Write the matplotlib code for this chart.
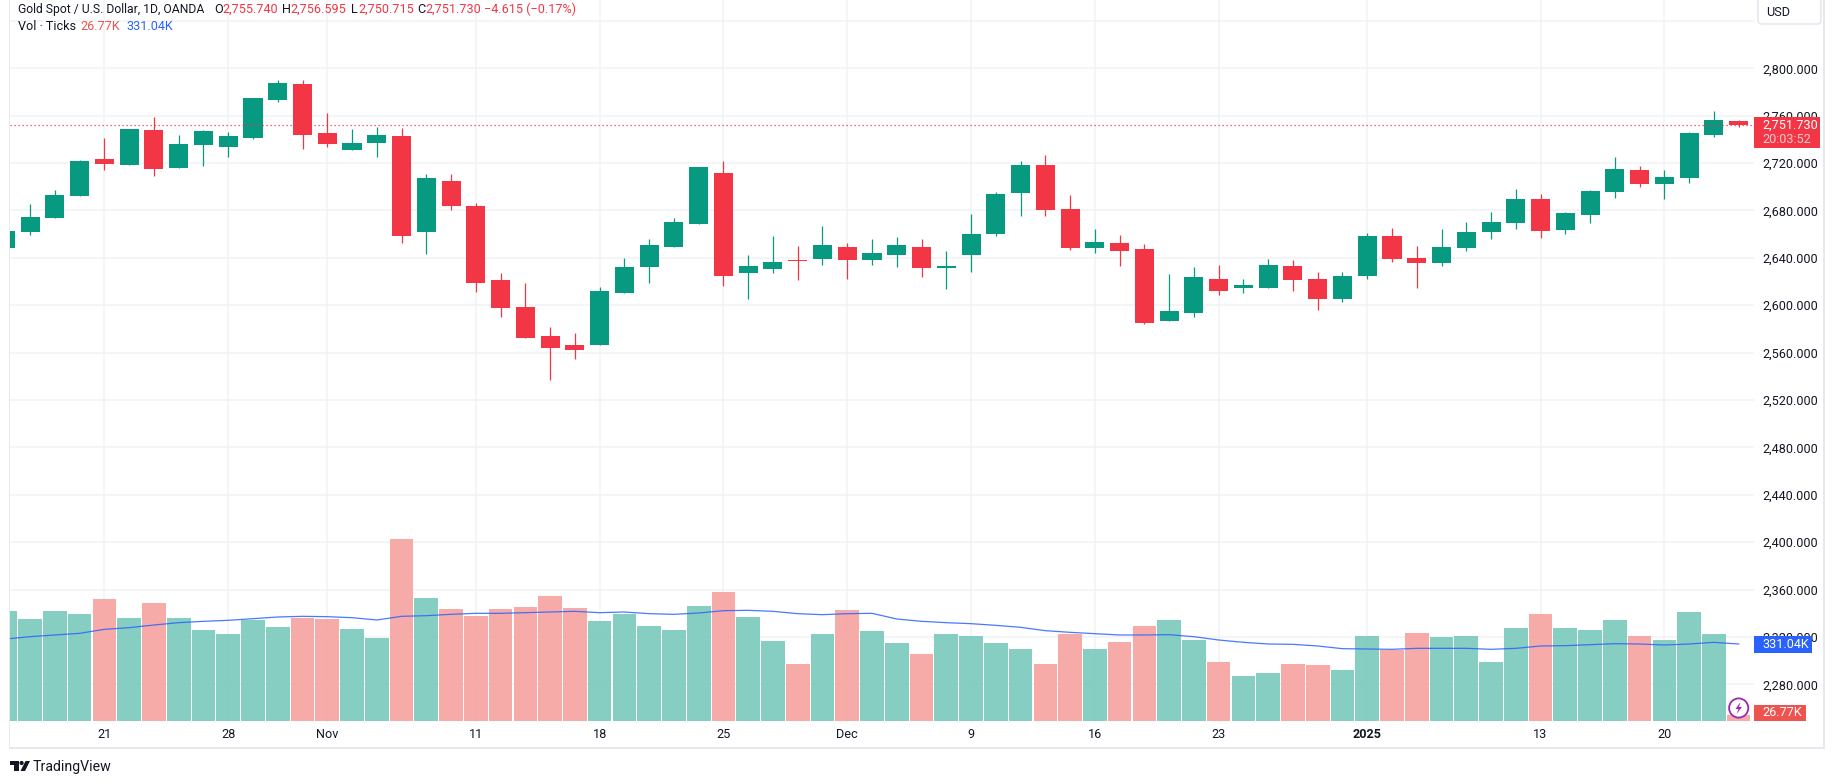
import matplotlib
matplotlib.use("Agg")
import matplotlib.pyplot as plt
from matplotlib.patches import Circle, FancyBboxPatch, Polygon, Rectangle

plt.rcParams["font.family"] = ["Roboto", "DejaVu Sans"]

opens = [2648.3, 2661.9, 2673.7, 2692.2, 2723.5, 2718.4, 2747.9, 2715.9, 2735.3, 2733.6,
         2741.2, 2773.3, 2786.8, 2745.4, 2731.1, 2737.0, 2742.9, 2661.9, 2704.9, 2683.8,
         2621.3, 2598.5, 2574.1, 2566.5, 2566.5, 2610.4, 2632.3, 2649.2, 2668.6, 2711.7,
         2627.2, 2630.6, 2638.2, 2639.1, 2649.2, 2638.2, 2642.4, 2649.2, 2631.5, 2642.4,
         2660.2, 2694.8, 2718.4, 2681.3, 2648.3, 2652.6, 2647.5, 2586.7, 2593.5, 2622.2,
         2614.6, 2614.6, 2633.2, 2622.2, 2605.3, 2624.7, 2658.5, 2639.9, 2635.7, 2648.3,
         2661.9, 2669.4, 2689.7, 2663.5, 2676.2, 2695.6, 2714.2, 2702.4, 2707.4, 2743.7,
         2755.74]
highs = [2662.7, 2685.5, 2697.3, 2722.6, 2741.2, 2748.8, 2758.9, 2743.7, 2747.9, 2746.3,
         2775.0, 2790.2, 2790.2, 2762.3, 2748.8, 2750.5, 2749.6, 2710.8, 2710.8, 2686.3,
         2627.2, 2618.8, 2581.7, 2576.6, 2615.4, 2639.9, 2655.9, 2673.7, 2716.7, 2721.8,
         2642.4, 2658.5, 2650.0, 2666.9, 2652.6, 2655.9, 2657.6, 2655.9, 2645.8, 2677.0,
         2695.6, 2721.8, 2726.8, 2693.1, 2664.4, 2659.3, 2651.7, 2626.4, 2632.3, 2634.0,
         2622.2, 2639.1, 2638.2, 2628.1, 2628.1, 2661.0, 2665.2, 2650.0, 2664.4, 2670.3,
         2678.7, 2698.1, 2693.9, 2678.7, 2697.3, 2725.2, 2717.6, 2714.2, 2746.3, 2764.0,
         2756.595]
lows = [2648.3, 2659.3, 2673.7, 2692.2, 2714.2, 2718.4, 2709.1, 2715.9, 2717.6, 2725.2,
        2740.4, 2771.6, 2731.9, 2733.6, 2731.1, 2725.2, 2652.6, 2643.3, 2680.4, 2611.2,
        2590.1, 2572.4, 2536.9, 2554.6, 2566.5, 2610.4, 2618.8, 2649.2, 2668.6, 2616.3,
        2605.3, 2627.2, 2621.3, 2634.0, 2622.2, 2634.0, 2632.3, 2623.9, 2613.7, 2628.1,
        2658.5, 2675.4, 2675.4, 2646.7, 2644.1, 2633.2, 2584.2, 2586.7, 2590.1, 2608.7,
        2610.4, 2614.6, 2612.0, 2596.0, 2602.8, 2622.2, 2636.5, 2614.6, 2633.2, 2645.8,
        2655.9, 2664.4, 2656.8, 2660.2, 2669.4, 2690.5, 2699.8, 2689.7, 2703.2, 2742.0,
        2750.715]
closes = [2662.7, 2674.5, 2693.1, 2721.8, 2719.2, 2748.8, 2715.0, 2736.1, 2747.1, 2742.9,
          2775.0, 2787.6, 2743.7, 2736.1, 2737.0, 2743.7, 2658.5, 2707.4, 2683.8, 2618.8,
          2597.7, 2572.4, 2563.9, 2562.2, 2612.0, 2632.3, 2650.9, 2670.3, 2716.7, 2624.7,
          2633.2, 2636.5, 2637.4, 2650.9, 2638.2, 2644.1, 2650.9, 2631.5, 2633.2, 2660.2,
          2693.9, 2718.4, 2680.4, 2648.3, 2653.4, 2645.8, 2585.0, 2595.2, 2623.9, 2612.0,
          2617.1, 2634.0, 2621.3, 2605.3, 2624.7, 2658.5, 2639.1, 2635.7, 2649.2, 2661.9,
          2670.3, 2689.7, 2662.7, 2677.9, 2696.5, 2715.0, 2702.4, 2708.3, 2745.4, 2756.4,
          2751.73]

# volume in thousands of ticks
volumes = [473.0, 438.6, 473.0, 460.1, 524.6, 442.9, 507.4, 442.9, 391.3, 374.1,
           434.3, 404.2, 442.9, 438.6, 395.6, 356.9, 782.6, 528.9, 481.6, 451.5,
           481.6, 490.2, 537.5, 485.9, 430.0, 460.1, 408.5, 391.3, 494.5, 554.7,
           447.2, 344.0, 245.1, 374.1, 477.3, 387.0, 335.4, 288.1, 374.1, 365.5,
           335.4, 309.6, 245.1, 374.1, 309.6, 339.7, 408.5, 434.3, 348.3, 253.7,
           193.5, 206.4, 245.1, 240.8, 219.3, 365.5, 305.3, 378.4, 361.2, 365.5,
           253.7, 399.9, 460.1, 399.9, 391.3, 434.3, 365.5, 348.3, 468.7, 374.1,
           26.77]
volume_ma = [352.6, 362.6, 369.8, 377.0, 394.2, 401.3, 412.8, 422.8, 428.6, 432.9,
             440.0, 447.2, 450.1, 448.6, 444.3, 434.3, 450.1, 452.9, 458.7, 463.0,
             463.0, 465.8, 468.7, 471.6, 465.8, 468.7, 461.5, 458.7, 464.4, 474.4,
             475.9, 471.6, 461.5, 457.2, 461.5, 463.0, 438.6, 428.6, 422.8, 418.5,
             411.4, 402.8, 388.4, 381.3, 375.5, 369.8, 369.8, 371.2, 362.6, 348.3,
             338.3, 331.1, 329.7, 322.5, 311.0, 309.6, 308.2, 312.5, 312.5, 312.5,
             308.2, 312.5, 322.5, 323.9, 328.2, 332.5, 331.1, 326.8, 331.1, 338.3,
             331.04]
volume_down = [c < o for o, c in zip(opens, closes)]

date_ticks = [4, 9, 13, 19, 24, 29, 34, 39, 44, 49, 55, 62, 67]
date_labels = ["21", "28", "Nov", "11", "18", "25", "Dec", "9", "16", "23", "2025", "13", "20"]
price_ticks = [2280, 2320, 2360, 2400, 2440, 2480, 2520, 2560, 2600, 2640, 2680, 2720, 2760, 2800, 2840]

last_close = 2751.73
last_ma = 331.04
last_volume = 26.77

GREEN = "#089981"
RED = "#F23645"
VOL_GREEN = "#84CDC0"
VOL_RED = "#F7A9A7"
BLUE = "#2962FF"
GRID = "#F1F2F5"
BORDER = "#E6E8EE"
TEXT = "#131722"
FS = 9.1

W, H = 1835, 784
PANE_L, PANE_R, PANE_B = 10, 1754, 722

fig = plt.figure(figsize=(W / 100, H / 100), dpi=100, facecolor="white")
pos = [PANE_L / W, 1 - PANE_B / H, (PANE_R - PANE_L) / W, PANE_B / H]

ax = fig.add_axes(pos, zorder=1)
ax.set_xlim(0.187, 70.62)
ax.set_ylim(2248.2, 2857.66)
for s in ax.spines.values():
    s.set_visible(False)
ax.set_axisbelow(True)
ax.grid(True, color=GRID, lw=1.1)

ax.yaxis.tick_right()
ax.set_yticks(price_ticks)
ax.set_yticklabels([f"{p:,.3f}" if p < 2840 else "" for p in price_ticks], fontsize=FS, color=TEXT)
ax.set_xticks(date_ticks)
ax.set_xticklabels(date_labels, fontsize=FS, color=TEXT)
ax.get_xticklabels()[date_labels.index("2025")].set_fontweight("bold")
ax.tick_params(length=0, axis="y", pad=6)
ax.tick_params(length=0, axis="x", pad=4)

# candles
for i in range(len(opens)):
    col = GREEN if closes[i] >= opens[i] else RED
    ax.vlines(i, lows[i], highs[i], color=col, lw=0.9, zorder=3)
    ax.bar(i, abs(closes[i] - opens[i]), bottom=min(opens[i], closes[i]),
           width=0.77, color=col, lw=0, zorder=3)

ax.axhline(last_close, color=RED, lw=0.9, ls=(0, (1, 2.2)), zorder=4)

# volume pane shares the x positions, 4.3K per pixel
ax_vol = fig.add_axes(pos, zorder=2, sharex=ax)
ax_vol.axis("off")
ax_vol.set_ylim(-4.3, 721 * 4.3)
vol_colors = [VOL_RED if d else VOL_GREEN for d in volume_down]
ax_vol.bar(range(len(volumes)), volumes, width=0.955, color=vol_colors, lw=0, alpha=0.98)
ax_vol.plot(range(len(volume_ma)), volume_ma, color=BLUE, lw=0.9, alpha=0.85)

# everything outside the data goes on a pixel overlay
ov = fig.add_axes([0, 0, 1, 1], zorder=5)
ov.set_xlim(0, W)
ov.set_ylim(H, 0)
ov.axis("off")

ov.add_patch(Rectangle((8.5, 0), 1.6, 748, color=BORDER, lw=0))
ov.add_patch(Rectangle((8.5, 747), 1815.5, 2, color=BORDER, lw=0))
ov.add_patch(Rectangle((1823, 0), 1.6, 749, color=BORDER, lw=0))

head = dict(fontsize=FS, va="center", ha="left")
ov.text(18, 9, "Gold Spot / U.S. Dollar, 1D, OANDA", color=TEXT, fontsize=8.7, va="center", ha="left")
for x, s in [(214, "O"), (282, "H"), (351, "L"), (417, "C")]:
    ov.text(x, 9, s, color=TEXT, **head)
for x, s in [(222, "2,755.740"), (290, "2,756.595"), (358, "2,750.715"), (425, "2,751.730"),
             (484, "\u22124.615 (\u22120.17%)")]:
    ov.text(x, 9, s, color=RED, **head)
ov.text(18, 26, "Vol \u00b7 Ticks", color=TEXT, **head)
ov.text(80, 26, "26.77K", color="#EF5350", **head)
ov.text(126, 26, "331.04K", color=BLUE, **head)

ov.add_patch(FancyBboxPatch((1758, -8), 63, 32, boxstyle="round,pad=0,rounding_size=4",
                            fc="white", ec=BORDER, lw=1.2))
ov.text(1766, 12, "USD", color=TEXT, fontsize=FS, va="center", ha="left")

ov.add_patch(Rectangle((1754, 117), 66, 31, color=RED, lw=0))
ov.text(1762, 125, f"{last_close:,.3f}", color="white", fontsize=FS, va="center", ha="left")
ov.text(1762, 139, "20:03:52", color="#FBC9CE", fontsize=FS, va="center", ha="left")

ov.add_patch(Rectangle((1754, 636), 58, 17, color=BLUE, lw=0))
ov.text(1762, 644.5, f"{last_ma:.2f}K", color="white", fontsize=FS, va="center", ha="left")
ov.add_patch(Rectangle((1754, 705), 52, 16, color="#EF5350", lw=0))
ov.text(1762, 713, f"{last_volume:.2f}K", color="white", fontsize=FS, va="center", ha="left")

# lightning badge
ov.add_patch(Circle((1738.7, 708), 9.6, fc="white", ec="#9C27B0", lw=1.3))
ov.add_patch(Polygon([(1740.5, 702), (1735.5, 709), (1738.5, 709), (1736.5, 714),
                      (1742, 707), (1739, 707)], color="#9C27B0", lw=0))

# TradingView logo
ov.add_patch(Polygon([(10, 761), (18.6, 761), (18.6, 771), (14, 771), (14, 765), (10, 765)],
                     color=TEXT, lw=0))
ov.add_patch(Circle((21.6, 763), 2.1, color=TEXT, lw=0))
ov.add_patch(Polygon([(25.5, 761), (30, 761), (25, 771), (20.5, 771)], color=TEXT, lw=0))
ov.text(33, 767, "TradingView", color=TEXT, fontsize=10.2, va="center", ha="left")

fig.savefig("out.png", dpi=100, facecolor="white")
